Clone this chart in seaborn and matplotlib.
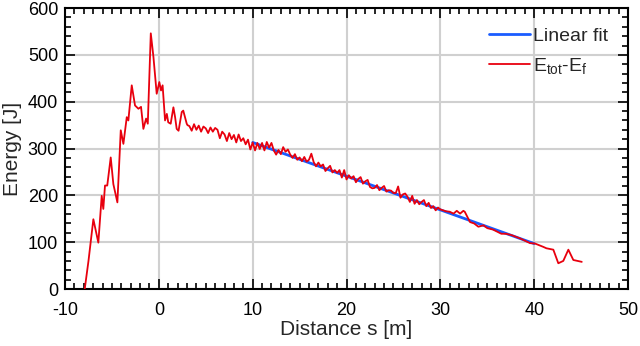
import numpy as np
import pandas as pd
import matplotlib
matplotlib.use("Agg")
import matplotlib.pyplot as plt
from matplotlib.ticker import MultipleLocator
import seaborn as sns

# ---- data -------------------------------------------------------------
# E_tot - E_f : rising part
s_rise = [-7.9, -7.5, -6.98, -6.45, -6.09, -5.92, -5.74, -5.5, -5.13, -4.85,
          -4.42, -4.06, -3.78, -3.42, -3.25, -2.89, -2.54, -2.18, -1.9, -1.65,
          -1.36, -1.18, -0.86, -0.58, -0.23, 0.05, 0.23, 0.4, 0.66, 0.85,
          1.0, 1.26, 1.55, 1.73, 1.9, 2.1, 2.44, 2.6, 2.97, 3.05]
e_rise = [0, 60, 149, 99, 199, 171, 221, 221, 281, 224,
          185, 339, 310, 367, 360, 435, 392, 385, 389, 342,
          364, 353, 546, 496, 417, 442, 424, 435, 360, 374,
          356, 353, 388, 367, 342, 338, 378, 381, 353, 350]

# E_tot - E_f : noisy decreasing part
s_mid = [3.25, 3.5, 3.75, 4.0, 4.25, 4.5, 4.75, 5.0, 5.25, 5.5,
         5.75, 6.0, 6.25, 6.5, 6.75, 7.0, 7.25, 7.5, 7.75, 8.0,
         8.25, 8.5, 8.75, 9.0, 9.25, 9.5, 9.75, 10.0, 10.25, 10.5,
         10.75, 11.0, 11.25, 11.5, 11.75, 12.0, 12.25, 12.5, 12.75, 13.0,
         13.25, 13.5, 13.75, 14.0, 14.25, 14.5, 14.75, 15.0, 15.25, 15.5,
         15.75, 16.0, 16.25, 16.5, 16.75, 17.0, 17.25, 17.5, 17.75, 18.0,
         18.25, 18.5, 18.75, 19.0, 19.25, 19.5, 19.75, 20.0, 20.25, 20.5,
         20.75, 21.0, 21.25, 21.5, 21.75, 22.0, 22.25, 22.5, 22.75, 23.0,
         23.25, 23.5, 23.75, 24.0, 24.25, 24.5, 24.75, 25.0, 25.25, 25.5,
         25.75, 26.0, 26.25, 26.5, 26.75, 27.0, 27.25, 27.5, 27.75, 28.0,
         28.25, 28.5, 28.75, 29.0, 29.25, 29.5, 29.75, 30.0]
e_mid = [348, 338, 352, 340, 349, 336, 347, 343, 333, 345,
         336, 344, 340, 322, 336, 330, 316, 333, 320, 329,
         313, 330, 316, 322, 309, 319, 298, 313, 296, 312,
         299, 312, 296, 314, 302, 312, 296, 287, 297, 288,
         303, 293, 298, 287, 280, 288, 276, 281, 273, 282,
         272, 276, 289, 271, 262, 270, 262, 266, 252, 258,
         263, 249, 254, 248, 254, 238, 254, 234, 243, 236,
         241, 228, 235, 239, 225, 230, 233, 218, 215, 216,
         222, 211, 216, 220, 208, 211, 210, 205, 205, 219,
         195, 202, 204, 197, 186, 199, 182, 190, 181, 186,
         190, 177, 184, 173, 177, 168, 174, 170]

# E_tot - E_f : sparse tail
s_tail = [30.6, 31.0, 31.4, 31.75, 32.1, 32.45, 32.6, 33.16, 33.6, 34.05,
          34.6, 35.0, 35.6, 36.5, 37.0, 37.6, 38.5, 39.56, 40.1, 40.97,
          41.3, 42.04, 42.57, 43.1, 43.64, 44.17, 45.07]
e_tail = [166, 165, 161, 167, 161, 167, 165, 143, 140, 133,
          136, 130, 127, 118, 118, 115, 108, 98, 97, 90,
          87, 84, 55, 60, 84, 62, 58]

# Linear fit end points
fit_s = [10.0, 40.0]
fit_e = [313, 97]

x_ticks = [-10, 0, 10, 20, 30, 40, 50]
y_ticks = [0, 100, 200, 300, 400, 500, 600]

# ---- styling ----------------------------------------------------------
sns.set_style("ticks")
plt.rcParams["font.family"] = ["Liberation Sans", "DejaVu Sans"]
plt.rcParams["mathtext.fontset"] = "custom"
plt.rcParams["mathtext.rm"] = "Liberation Sans"
plt.rcParams["mathtext.it"] = "Liberation Sans"
plt.rcParams["axes.unicode_minus"] = False

fig = plt.figure(figsize=(6.4, 3.46), dpi=100)
ax = fig.add_axes([0.1016, 0.1647, 0.8797, 0.812])

df_red = pd.DataFrame({"s": s_rise + s_mid + s_tail, "E": e_rise + e_mid + e_tail})
df_fit = pd.DataFrame({"s": fit_s, "E": fit_e})

sns.lineplot(data=df_fit, x="s", y="E", ax=ax, color="#1a5cff", lw=2.0,
             label="Linear fit", sort=False, estimator=None, zorder=3)
sns.lineplot(data=df_red, x="s", y="E", ax=ax, color="#e8000e", lw=1.3,
             label=r"E$_{\mathrm{tot}}$-E$_{\mathrm{f}}$", sort=False,
             estimator=None, zorder=4)

ax.set_xlim(-10, 50)
ax.set_ylim(0, 600)
ax.set_xticks(x_ticks)
ax.set_yticks(y_ticks)
ax.xaxis.set_minor_locator(MultipleLocator(1))
ax.yaxis.set_minor_locator(MultipleLocator(20))
ax.grid(True, which="major", color="#d0d0d0", lw=1.5, zorder=0)
ax.set_axisbelow(True)

ax.tick_params(which="both", direction="in", top=True, right=True,
               colors="black", labelsize=13, width=1.2)
ax.tick_params(which="major", length=7)
ax.tick_params(which="minor", length=4)
ax.tick_params(axis="x", which="major", pad=9)
ax.tick_params(axis="y", which="major", pad=5)
for sp in ax.spines.values():
    sp.set_visible(True)
    sp.set_color("black")
    sp.set_linewidth(1.5)

ax.set_xlabel("Distance s [m]", fontsize=15, labelpad=1)
ax.set_ylabel("Energy [J]", fontsize=15, labelpad=4)

leg = ax.legend(loc="upper right", frameon=False, fontsize=14,
                handlelength=2.1, handletextpad=0.2, borderaxespad=0.6,
                labelspacing=0.55)

fig.savefig("out.png", dpi=100)
